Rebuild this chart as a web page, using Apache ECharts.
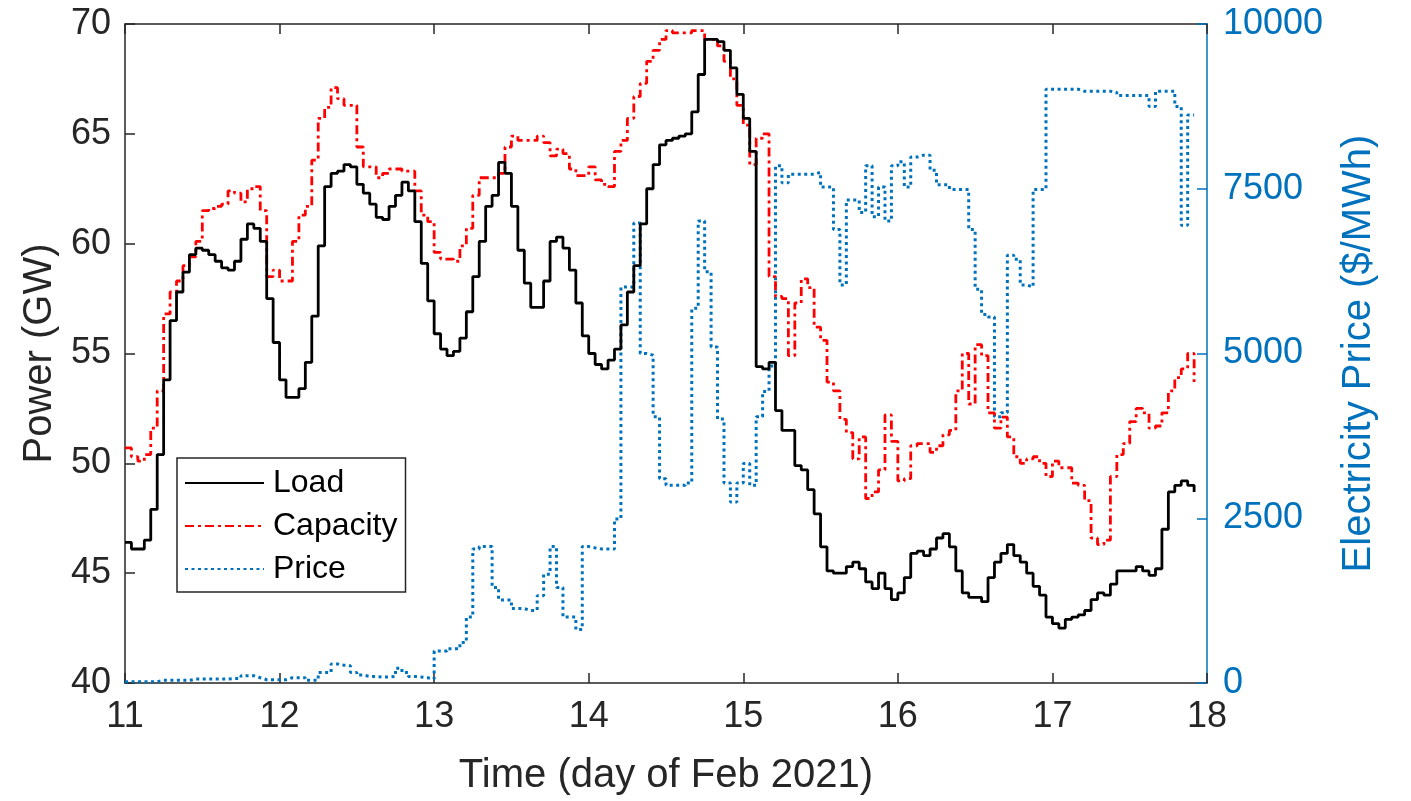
<!DOCTYPE html>
<html>
<head>
<meta charset="utf-8">
<script src="https://cdn.jsdelivr.net/npm/echarts@6/dist/echarts.min.js"></script>
<style>html,body{margin:0;padding:0;background:#fff}#c{width:1411px;height:801px}</style>
</head>
<body>
<div id="c"></div>
<script>
// Time base: hourly samples starting at day 11 (Feb 2021)
const startDay = 11;
const hoursPerDay = 24;
const xTicks = [11, 12, 13, 14, 15, 16, 17, 18];
const powerTicks = [40, 45, 50, 55, 60, 65, 70];
const priceTicks = [0, 2500, 5000, 7500, 10000];
const seriesNames = ['Load', 'Capacity', 'Price'];

// Load (GW), hourly
const load = [
  46.4,46.1,46.1,46.5,47.9,50.4,53.8,56.5,57.8,58.7,
  59.5,59.8,59.7,59.5,59.2,58.9,58.8,59.2,60.2,60.9,
  60.7,60.1,57.5,55.5,53.8,53.0,53.0,53.4,54.6,56.7,
  59.9,62.6,63.2,63.3,63.6,63.5,62.7,62.3,61.8,61.2,
  61.1,61.7,62.2,62.8,62.4,61.0,59.1,57.4,55.9,55.2,
  54.9,55.1,55.7,56.9,58.5,60.1,61.7,62.2,63.7,63.2,
  61.7,59.7,58.2,57.1,57.1,58.3,60.1,60.3,59.8,58.8,
  57.3,55.8,55.0,54.5,54.3,54.7,55.2,56.3,57.8,59.0,
  60.9,62.5,63.6,64.5,64.7,64.8,64.9,65.0,66.0,67.7,
  69.3,69.3,69.2,68.8,68.0,66.8,65.7,64.2,54.4,54.3,
  54.6,52.4,51.5,51.5,49.9,49.7,48.8,47.7,46.2,45.1,
  45.0,45.0,45.3,45.5,45.2,44.6,44.3,45.0,44.3,43.8,
  44.1,44.8,45.9,46.0,45.8,46.1,46.6,46.8,46.2,45.1,
  44.1,43.9,43.9,43.7,44.8,45.5,45.9,46.3,45.8,45.5,
  45.0,44.4,44.0,43.0,42.7,42.5,42.9,43.0,43.1,43.3,
  43.8,44.1,44.0,44.5,45.1,45.1,45.1,45.3,45.1,44.9,
  45.2,47.0,48.7,49.0,49.2,49.0,48.7
];

// Capacity (GW), hourly
const capacity = [
  50.7,50.3,50.1,50.4,51.6,53.3,56.8,57.8,58.3,59.0,
  59.4,60.1,61.5,61.6,61.7,61.8,62.4,62.3,61.9,62.5,
  62.6,61.5,58.5,58.8,58.3,58.3,60.1,61.3,61.7,63.8,
  65.7,66.2,67.1,66.6,66.3,66.3,64.4,63.5,63.5,63.0,
  63.2,63.4,63.4,63.3,63.3,62.4,61.3,61.0,59.6,59.3,
  59.3,59.2,59.9,60.7,62.2,63.0,63.0,63.0,63.2,64.4,
  64.9,64.7,64.7,64.7,64.9,64.6,64.0,64.3,64.1,63.4,
  63.1,63.1,63.5,62.9,62.7,62.6,64.2,64.7,65.7,66.7,
  67.3,68.3,68.8,69.3,69.7,69.6,69.6,69.6,69.7,69.7,
  69.3,69.3,69.0,68.3,67.5,66.3,65.4,63.6,64.8,65.0,
  58.5,57.6,57.5,54.9,57.3,58.4,58.0,56.2,55.6,53.7,
  53.3,52.0,51.4,50.2,51.2,48.4,48.7,49.7,52.2,51.0,
  49.2,49.3,50.8,50.9,50.9,50.5,50.8,51.3,51.5,53.3,
  55.0,52.7,55.4,54.9,52.3,51.6,52.1,51.2,50.3,50.0,
  50.2,50.3,50.0,49.4,50.1,49.8,49.8,49.1,49.0,48.3,
  46.6,46.3,46.5,49.4,50.4,50.9,51.9,52.5,52.3,51.6,
  51.7,52.3,53.3,53.9,54.3,55.0,53.7
];

// Electricity price ($/MWh), hourly
const price = [
  20,20,20,20,20,40,40,40,40,40,
  60,60,60,60,60,60,70,70,110,110,
  80,50,50,50,50,80,80,80,40,40,
  160,160,290,270,260,160,120,100,100,90,
  90,100,225,160,100,90,80,60,485,485,
  520,520,615,1000,2035,2070,2070,1450,1260,1260,
  1130,1130,1100,1100,1325,1650,2070,1450,1000,1000,
  810,2070,2050,2035,2035,2035,2490,6010,6010,6980,
  5000,4975,4040,3100,3000,3000,3000,3036,5685,7010,
  6240,5100,4005,3036,2745,3036,3330,3000,4040,4425,
  4810,7850,7590,7720,7720,7720,7720,7750,7525,7525,
  6880,6040,7330,7330,7140,7850,7075,7525,7010,7850,
  7910,7525,7980,8010,8010,7780,7560,7560,7490,7490,
  7490,6880,5975,5590,5555,4040,4100,6490,6430,6040,
  6010,7490,7490,9010,9010,9010,9010,9010,8980,8980,
  8980,8980,8980,8960,8915,8915,8915,8915,8915,8750,
  8980,8980,8980,8750,6945,8620,8620
];

const toPairs = arr => arr.map((v, i) => [startDay + i / hoursPerDay, v]);

const FONT = '"Liberation Sans", Arial, Helvetica, sans-serif';
const DARK = '#262626';
const BLUE = '#0072BD';

const chart = echarts.init(document.getElementById('c'), null, {renderer: 'canvas'});
chart.setOption({
  animation: false,
  backgroundColor: '#ffffff',
  textStyle: {fontFamily: FONT},
  grid: {left: 125, right: 204, top: 24, bottom: 117, containLabel: false},
  legend: {
    data: seriesNames,
    orient: 'vertical',
    left: 177, top: 458,
    width: 231,
    itemWidth: 79, itemHeight: 14,
    itemGap: 7,
    padding: [7, 8, 5, 7],
    backgroundColor: '#ffffff',
    borderColor: '#262626',
    borderWidth: 1.5,
    borderRadius: 0,
    itemStyle: {opacity: 0},
    textStyle: {fontSize: 32, color: '#000', fontFamily: FONT, lineHeight: 36, padding: [0, 0, 0, 4]}
  },
  xAxis: [
    {
      type: 'value', min: xTicks[0], max: xTicks[xTicks.length - 1], interval: 1,
      position: 'bottom',
      name: 'Time (day of Feb 2021)', nameLocation: 'middle', nameGap: 73,
      nameTextStyle: {fontSize: 40, color: DARK, fontFamily: FONT},
      axisLine: {show: true, onZero: false, lineStyle: {color: DARK, width: 1.5}},
      axisTick: {show: true, inside: true, length: 10, lineStyle: {color: DARK, width: 1.5}},
      axisLabel: {fontSize: 36, color: DARK, margin: 16, fontFamily: FONT},
      splitLine: {show: false}
    },
    {
      type: 'value', min: xTicks[0], max: xTicks[xTicks.length - 1], interval: 1,
      position: 'top',
      axisLine: {show: true, onZero: false, lineStyle: {color: DARK, width: 1.5}},
      axisTick: {show: true, inside: true, length: 10, lineStyle: {color: DARK, width: 1.5}},
      axisLabel: {show: false},
      splitLine: {show: false}
    }
  ],
  yAxis: [
    {
      type: 'value', min: powerTicks[0], max: powerTicks[powerTicks.length - 1], interval: 5,
      position: 'left',
      name: 'Power (GW)', nameLocation: 'middle', nameGap: 64, nameRotate: 90,
      nameTextStyle: {fontSize: 40, color: DARK, fontFamily: FONT},
      axisLine: {show: true, onZero: false, lineStyle: {color: DARK, width: 1.5}},
      axisTick: {show: true, inside: true, length: 10, lineStyle: {color: DARK, width: 1.5}},
      axisLabel: {fontSize: 36, color: DARK, margin: 14, fontFamily: FONT},
      splitLine: {show: false}
    },
    {
      type: 'value', min: priceTicks[0], max: priceTicks[priceTicks.length - 1], interval: 2500,
      position: 'right',
      name: 'Electricity Price ($/MWh)', nameLocation: 'middle', nameGap: 132, nameRotate: 90,
      nameTextStyle: {fontSize: 40, color: BLUE, fontFamily: FONT},
      axisLine: {show: true, onZero: false, lineStyle: {color: BLUE, width: 1.5}},
      axisTick: {show: true, inside: true, length: 10, lineStyle: {color: BLUE, width: 1.5}},
      axisLabel: {fontSize: 36, color: BLUE, margin: 16, fontFamily: FONT, formatter: v => String(v)},
      splitLine: {show: false}
    }
  ],
  series: [
    {
      name: seriesNames[0], type: 'line', step: 'end', xAxisIndex: 0, yAxisIndex: 0,
      data: toPairs(load), showSymbol: false, symbol: 'none', z: 4,
      itemStyle: {color: '#000000'},
      lineStyle: {color: '#000000', width: 2.8}
    },
    {
      name: seriesNames[1], type: 'line', step: 'end', xAxisIndex: 0, yAxisIndex: 0,
      data: toPairs(capacity), showSymbol: false, symbol: 'none', z: 3,
      itemStyle: {color: '#FF0000'},
      lineStyle: {color: '#FF0000', width: 2.8, type: [9, 4, 3, 4]}
    },
    {
      name: seriesNames[2], type: 'line', step: 'end', xAxisIndex: 0, yAxisIndex: 1,
      data: toPairs(price), showSymbol: false, symbol: 'none', z: 2,
      itemStyle: {color: BLUE},
      lineStyle: {color: BLUE, width: 3, type: [3, 3.5]}
    }
  ]
});
</script>
</body>
</html>
